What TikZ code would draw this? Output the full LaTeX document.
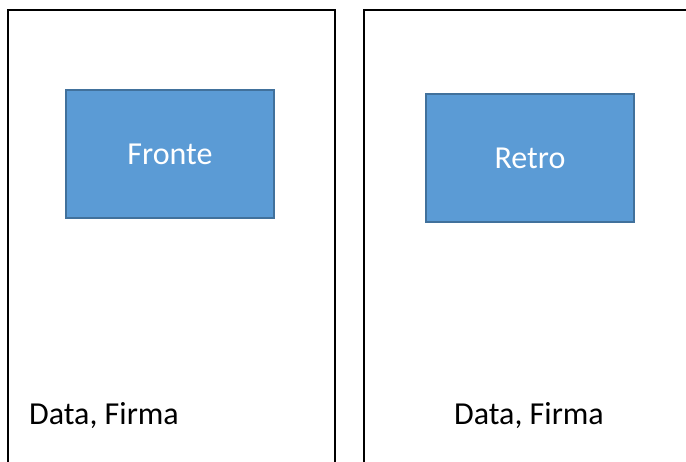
\documentclass[tikz,border=0pt]{standalone}
\usepackage{fontspec}
\setmainfont{Carlito}
\definecolor{boxfill}{HTML}{5B9BD5}
\definecolor{boxline}{HTML}{41719C}
\begin{document}
\begin{tikzpicture}[x=1pt,y=-1pt,
  page/.style={draw=black,line width=2pt},
  bluebox/.style={draw=boxline,fill=boxfill,line width=1.8pt,minimum width=208pt,minimum height=128pt,text=white,font=\fontsize{32}{38}\selectfont},
  caption/.style={font=\fontsize{32}{38}\selectfont,text=black}]
\useasboundingbox (0,0) rectangle (686,461);
\begin{scope}
\clip (0,0) rectangle (686,461);
\draw[page] (8,10) rectangle (335,480);
\draw[page] (364,10) rectangle (700,480);
\end{scope}
\node[bluebox] (fronte) at (170,154) {Fronte};
\node[bluebox] (retro) at (530,158) {Retro};
\node[caption] (df1) at (104,416) {Data, Firma};
\node[caption] (df2) at (529,416) {Data, Firma};
\end{tikzpicture}
\end{document}
